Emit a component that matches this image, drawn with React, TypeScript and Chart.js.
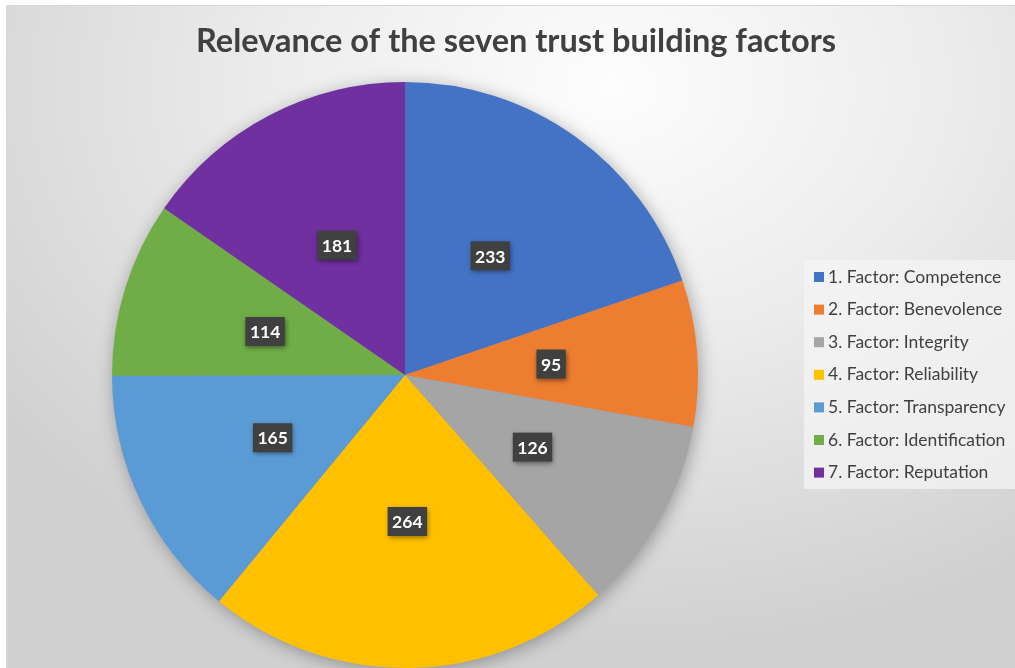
import React, { useEffect, useRef } from "react";
import { Chart, registerables } from "chart.js";

Chart.register(...registerables);

const titleText = "Relevance of the seven trust building factors";
const categories = [
  "1. Factor: Competence",
  "2. Factor: Benevolence",
  "3. Factor: Integrity",
  "4. Factor: Reliability",
  "5. Factor: Transparency",
  "6. Factor: Identification",
  "7. Factor: Reputation",
];
const values = [233, 95, 126, 264, 165, 114, 181];
const colors = ["#4472C4", "#ED7D31", "#A5A5A5", "#FFC000", "#5B9BD5", "#70AD47", "#7030A0"];

const FONT = "Lato, 'Open Sans', sans-serif";

const decorPlugin = {
  id: "decor",
  beforeDatasetsDraw(chart: any) {
    const meta = chart.getDatasetMeta(0);
    const arc = meta.data[0];
    if (!arc) return;
    const ctx = chart.ctx;
    ctx.save();
    ctx.shadowColor = "rgba(0,0,0,0.35)";
    ctx.shadowBlur = 18;
    ctx.shadowOffsetX = 2;
    ctx.shadowOffsetY = 3;
    ctx.fillStyle = "#999";
    ctx.beginPath();
    ctx.arc(arc.x, arc.y, arc.outerRadius - 1, 0, Math.PI * 2);
    ctx.fill();
    ctx.restore();
  },
  afterDatasetsDraw(chart: any) {
    const ctx = chart.ctx;
    const meta = chart.getDatasetMeta(0);
    // data labels
    meta.data.forEach((el: any, i: number) => {
      const p = el.tooltipPosition();
      const txt = String(chart.data.datasets[0].data[i]);
      ctx.save();
      ctx.font = `bold 17.5px ${FONT}`;
      const w = ctx.measureText(txt).width + 9;
      const h = 29;
      ctx.shadowColor = "rgba(0,0,0,0.45)";
      ctx.shadowBlur = 5;
      ctx.shadowOffsetX = 1;
      ctx.shadowOffsetY = 2;
      ctx.fillStyle = "#404040";
      ctx.fillRect(p.x - w / 2, p.y - h / 2, w, h);
      ctx.restore();
      ctx.save();
      ctx.font = `bold 17.5px ${FONT}`;
      ctx.fillStyle = "#ffffff";
      ctx.textAlign = "center";
      ctx.textBaseline = "middle";
      ctx.fillText(txt, p.x, p.y + 1);
      ctx.restore();
    });
    // title
    ctx.save();
    ctx.font = `bold 32.5px ${FONT}`;
    ctx.fillStyle = "#404040";
    ctx.textAlign = "center";
    ctx.textBaseline = "middle";
    ctx.fillText(chart.options.plugins.decor.title, 516, 42);
    ctx.restore();
    // legend
    ctx.save();
    ctx.fillStyle = "rgba(244,244,244,0.75)";
    ctx.fillRect(804, 260, 211, 229);
    ctx.font = `17.5px ${FONT}`;
    ctx.textBaseline = "middle";
    chart.data.labels.forEach((lab: string, i: number) => {
      const y = 277 + i * 32.6;
      ctx.fillStyle = chart.data.datasets[0].backgroundColor[i];
      ctx.fillRect(814, y - 5, 10, 10);
      ctx.fillStyle = "#404040";
      ctx.fillText(lab, 828, y);
    });
    ctx.restore();
  },
};

export default function App() {
  const ref = useRef<HTMLCanvasElement | null>(null);
  useEffect(() => {
    if (!ref.current) return;
    const chart = new Chart(ref.current, {
      type: "pie",
      data: {
        labels: categories,
        datasets: [
          {
            data: values,
            backgroundColor: colors,
            borderWidth: 0,
          },
        ],
      },
      options: {
        animation: false,
        responsive: false,
        maintainAspectRatio: false,
        layout: { padding: { left: 112, right: 317, top: 82, bottom: 0 } },
        plugins: {
          legend: { display: false },
          tooltip: { enabled: false },
          title: { display: false },
          decor: { title: titleText },
        } as any,
      },
      plugins: [decorPlugin],
    });
    return () => chart.destroy();
  }, []);
  return (
    <div
      style={{
        position: "absolute",
        left: 0,
        top: 0,
        width: 1015,
        height: 668,
        background: "#ffffff",
        overflow: "hidden",
      }}
    >
      <div
        style={{
          position: "absolute",
          left: 6,
          top: 5,
          width: 1009,
          height: 663,
          boxSizing: "border-box",
          borderLeft: "1px solid #d8d8d8",
          borderTop: "1px solid #d8d8d8",
          background:
            "radial-gradient(ellipse 75% 85% at 60% 12%, #fdfdfd 0%, #ececec 45%, #d0d0d0 100%)",
        }}
      />
      <canvas
        ref={ref}
        width={1015}
        height={668}
        style={{ position: "absolute", left: 0, top: 0, width: 1015, height: 668 }}
      />
    </div>
  );
}
